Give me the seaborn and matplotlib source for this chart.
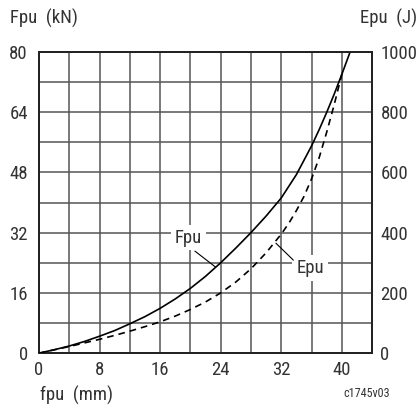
import matplotlib
matplotlib.use("Agg")
import matplotlib.pyplot as plt
from matplotlib import font_manager
from matplotlib.ticker import MultipleLocator
import seaborn as sns
import pandas as pd

# Fpu curve (kN) against stroke fpu (mm)
fpu_mm = [0, 2, 4, 6, 8, 10, 12, 14, 16, 18, 20, 22, 24, 26, 28, 30, 32, 34, 36,
          37, 38, 39, 40, 41.1]
fpu_kn = [0, 0.9, 1.9, 3.1, 4.5, 6.0, 7.8, 9.7, 11.9, 14.4, 17.2, 20.4, 24.0, 27.9,
          32.0, 36.4, 41.2, 47.4, 55.0, 59.3, 63.9, 68.8, 74.0, 80]

# Epu curve (J) against stroke fpu (mm)
epu_mm = [0, 2, 4, 6, 8, 10, 12, 14, 16, 18, 20, 22, 24, 26, 28, 30, 32, 33, 34,
          35, 36, 37, 38, 39, 40]
epu_j = [0, 11, 22, 34, 46, 59, 73, 88, 104, 123, 145, 170, 200, 236, 280, 333, 395,
         431, 473, 520, 578, 648, 733, 825, 925]

x_ticks = [0, 8, 16, 24, 32, 40]
left_ticks = [0, 16, 32, 48, 64, 80]
right_ticks = [0, 200, 400, 600, 800, 1000]

df_f = pd.DataFrame({"mm": fpu_mm, "val": fpu_kn})
df_e = pd.DataFrame({"mm": epu_mm, "val": epu_j})

sns.set_style("white")
installed = {f.name for f in font_manager.fontManager.ttflist}
fam = "Liberation Sans"
for cand in ["Roboto Condensed", "Liberation Sans Narrow", "DejaVu Sans Condensed"]:
    if cand in installed:
        fam = cand
        break
plt.rcParams['font.family'] = [fam, 'DejaVu Sans']
fs = 13.5 if fam != "Liberation Sans" else 12

txt = "#333333"
gridc = "#555555"

fig = plt.figure(figsize=(4.19, 4.15), dpi=100)
ax = fig.add_axes([0.093, 0.149, 0.795, 0.726])
ax2 = ax.twinx()

sns.lineplot(data=df_f, x="mm", y="val", ax=ax, color="black", lw=1.2, zorder=3)
sns.lineplot(data=df_e, x="mm", y="val", ax=ax2, color="black", lw=1.2, zorder=3)
ax2.lines[0].set_dashes([4, 3])

ax.set_xlim(0, 44)
ax.set_ylim(0, 80)
ax2.set_ylim(0, 1000)
ax.set_xticks(x_ticks)
ax.set_yticks(left_ticks)
ax2.set_yticks(right_ticks)
ax.xaxis.set_minor_locator(MultipleLocator(4))
ax.yaxis.set_minor_locator(MultipleLocator(8))
ax.grid(True, which="both", color=gridc, lw=1.1)
ax.set_axisbelow(True)

for a in (ax, ax2):
    a.tick_params(which="both", length=0, labelsize=fs, labelcolor=txt, pad=8)
    a.set_xlabel("")
    a.set_ylabel("")
    for s in a.spines.values():
        s.set_color("#222222")
        s.set_linewidth(1.3)
ax.tick_params(axis="x", pad=6)
ax2.tick_params(axis="y", pad=6)

# curve labels with white boxes and leader lines
box = dict(boxstyle="square,pad=0.2", fc="white", ec="none")
ax.text(19.75, 30.7, "Fpu", fontsize=fs, color=txt, ha="center", va="center", bbox=box, zorder=4)
ax.plot([20.6, 23.3], [27.1, 22.9], color="black", lw=0.8, zorder=4)
ax.text(35.8, 22.6, "Epu", fontsize=fs, color=txt, ha="center", va="center", bbox=box, zorder=4)
ax.plot([31.3, 33.6], [29.2, 24.7], color="black", lw=0.8, zorder=4)

fig.text(0.024, 0.955, "Fpu  (kN)", fontsize=fs, color=txt, ha="left", va="center")
fig.text(0.995, 0.955, "Epu  (J)", fontsize=fs, color=txt, ha="right", va="center")
fig.text(0.095, 0.048, "fpu  (mm)", fontsize=fs, color=txt, ha="left", va="center")
fig.text(0.93, 0.052, "c1745v03", fontsize=fs * 0.65, color=txt, ha="right", va="center")

fig.savefig("out.png", dpi=100, facecolor="white")
